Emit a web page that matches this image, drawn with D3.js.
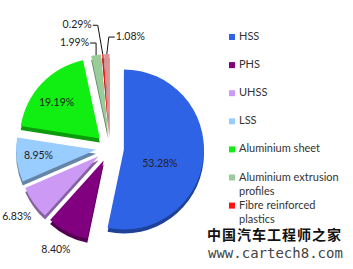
<!DOCTYPE html>
<html>
<head>
  <meta charset="utf-8">
  <title>Material mix pie</title>
  <script src="https://d3js.org/d3.v7.min.js"></script>
  <style>
    body {
      margin: 0;
      padding: 0;
      background-color: white;
    }
    .pct {
      font-family: Lato, "Open Sans", sans-serif;
      font-size: 10.5px;
      fill: #222;
    }
    .legend-text {
      font-family: Lato, "Open Sans", sans-serif;
      font-size: 11px;
      fill: #333;
    }
  </style>
</head>
<body>
  <div id="chart"></div>
  <script>
    // data
    var categories = ["HSS", "PHS", "UHSS", "LSS", "Aluminium sheet",
                      "Aluminium extrusion profiles", "Fibre reinforced plastics", "Other"];
    var values = [53.28, 8.40, 6.83, 8.95, 19.19, 1.99, 0.29, 1.08];
    var labels = ["53.28%", "8.40%", "6.83%", "8.95%", "19.19%", "1.99%", "0.29%", "1.08%"];
    var colors = ["#2f63e6", "#800080", "#cc99f5", "#99ccff", "#11ee11", "#99cc99", "#ff1111", "#d99694"];

    // label placement: polar from slice tip (angle offset in degrees, radius) or leader line
    var labelLayout = [
      {da: 17, r: 39},
      {da: 1, r: 102},
      {da: -1, r: 102},
      {da: 1, r: 58},
      {da: -4, r: 56},
      {leader: true, rise: 12, slant: 0, run: -6},
      {leader: true, rise: 29, slant: -5, run: -5},
      {leader: true, rise: 17, slant: 2, run: 6}
    ];

    var width = 353, height = 269;
    var cx = 110, cy = 148, R = 80, explode = 14, depth = 4;

    var svg = d3.select("#chart")
      .append("svg")
        .attr("width", width)
        .attr("height", height);

    var pie = d3.pie().sort(null).value(function(d) { return d; });
    var arcs = pie(values);
    var arc = d3.arc().innerRadius(0).outerRadius(R);

    function mid(d) { return (d.startAngle + d.endAngle) / 2; }
    function tip(d) {
      var m = mid(d);
      return [cx + Math.sin(m) * explode, cy - Math.cos(m) * explode];
    }

    var g = svg.append("g");

    // side faces (fake 3d thickness)
    g.selectAll(".side")
        .data(arcs)
      .enter().append("path")
        .attr("class", "side")
        .attr("d", arc)
        .attr("transform", function(d) { var t = tip(d); return "translate(" + t[0] + "," + (t[1] + depth) + ")"; })
        .attr("fill", function(d, i) { return d3.color(colors[i]).darker(1.2); });

    // top faces
    g.selectAll(".slice")
        .data(arcs)
      .enter().append("path")
        .attr("class", "slice")
        .attr("d", arc)
        .attr("transform", function(d) { var t = tip(d); return "translate(" + t[0] + "," + t[1] + ")"; })
        .attr("fill", function(d, i) { return colors[i]; });

    // labels
    arcs.forEach(function(d, i) {
      var L = labelLayout[i];
      var t = tip(d);
      var m = mid(d);
      if (!L.leader) {
        var a = m + L.da * Math.PI / 180;
        svg.append("text")
          .attr("class", "pct")
          .attr("x", t[0] + Math.sin(a) * L.r)
          .attr("y", t[1] - Math.cos(a) * L.r)
          .attr("text-anchor", "middle")
          .attr("dominant-baseline", "middle")
          .text(labels[i]);
      } else {
        var ox = t[0] + Math.sin(m) * R, oy = t[1] - Math.cos(m) * R;
        var kx = ox + L.slant, ky = oy - L.rise;
        var ex = kx + L.run;
        svg.append("path")
          .attr("d", "M" + ox + "," + oy + "L" + kx + "," + ky + "L" + ex + "," + ky)
          .attr("fill", "none")
          .attr("stroke", "#111")
          .attr("stroke-width", 1);
        svg.append("text")
          .attr("class", "pct")
          .attr("x", ex + (L.run < 0 ? -1 : 1))
          .attr("y", ky)
          .attr("text-anchor", L.run < 0 ? "end" : "start")
          .attr("dominant-baseline", "middle")
          .text(labels[i]);
      }
    });

    // legend
    var legend = svg.append("g").attr("transform", "translate(229,37)");
    var rows = legend.selectAll(".row")
        .data(categories.slice(0, 7))
      .enter().append("g")
        .attr("transform", function(d, i) { return "translate(0," + (i * 28.1) + ")"; });
    rows.append("rect")
        .attr("x", 0).attr("y", -3)
        .attr("width", 6).attr("height", 6)
        .attr("fill", function(d, i) { return colors[i]; });
    rows.each(function(d) {
      var words = d.split(" ");
      var lines = d.length > 20 ? [words.slice(0, 2).join(" "), words.slice(2).join(" ")] : [d];
      var txt = d3.select(this).append("text")
        .attr("class", "legend-text")
        .attr("x", 10)
        .attr("y", 0)
        .attr("dominant-baseline", "middle");
      lines.forEach(function(l, j) {
        txt.append("tspan").attr("x", 10).attr("dy", j === 0 ? 0 : 14).text(l);
      });
    });

    // watermark
    svg.append("text")
        .attr("x", 207).attr("y", 236)
        .attr("dominant-baseline", "middle")
        .style("font-family", "'Noto Sans CJK SC', sans-serif")
        .style("font-weight", "bold")
        .style("font-size", "14px")
        .style("letter-spacing", "1px")
        .attr("fill", "#111")
        .text("中国汽车工程师之家");
    svg.append("text")
        .attr("x", 208).attr("y", 254)
        .attr("dominant-baseline", "middle")
        .style("font-family", "'DejaVu Sans Mono', monospace")
        .style("font-size", "14px")
        .attr("fill", "#444")
        .text("www.cartech8.com");
  </script>
</body>
</html>
